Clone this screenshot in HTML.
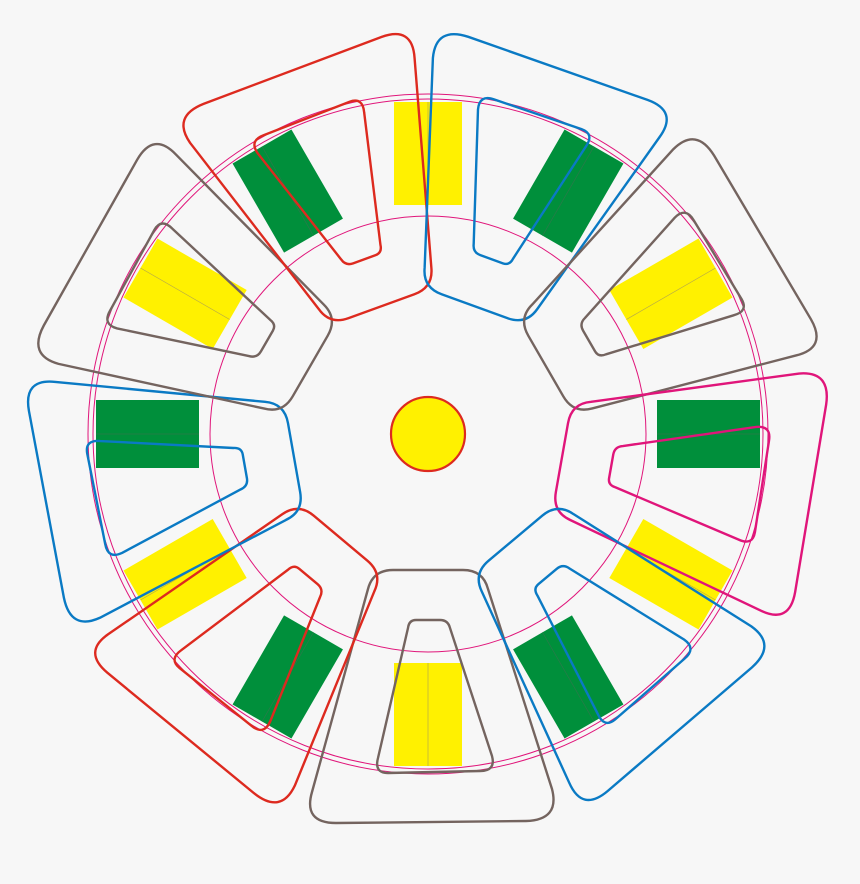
<!DOCTYPE html>
<html><head><meta charset="utf-8"><style>
html,body{margin:0;padding:0;background:#f7f7f7;}
svg{display:block;}
</style></head><body>
<svg width="860" height="884" viewBox="0 0 860 884" xmlns="http://www.w3.org/2000/svg">
<defs>
<g id="ry"><rect x="-34" y="229" width="68" height="103" fill="#fff100"/><line x1="0" y1="229" x2="0" y2="332" stroke="#b5a84a" stroke-width="0.7"/></g>
<g id="rg"><rect x="-34" y="229" width="68" height="103" fill="#008f3b"/><line x1="0" y1="229" x2="0" y2="332" stroke="#2a7a4a" stroke-width="0.7"/></g>
<g id="coil" fill="none" stroke-width="2.4" stroke-linejoin="round">
<path d="M -35,136 L 35,136 Q 55,136 60,155 L 124,355 Q 132,386 98,387 L -92,389 Q -125,389 -116,358 L -60,155 Q -55,136 -35,136 Z"/>
<path d="M -12,186 L 12,186 Q 20,186 22,194 L 64,322 Q 68,337 52,337 L -40,339 Q -54,339 -50,324 L -20,194 Q -19,186 -12,186 Z"/>
</g>
</defs>
<g transform="translate(428,434)">
<circle r="340" fill="none" stroke="#e0157a" stroke-width="1"/>
<circle r="335" fill="none" stroke="#e0157a" stroke-width="1"/>
<circle r="218" fill="none" stroke="#e0157a" stroke-width="1"/>
<use href="#ry" transform="rotate(0)"/>
<use href="#rg" transform="rotate(30)"/>
<use href="#ry" transform="rotate(60)"/>
<use href="#rg" transform="rotate(90)"/>
<use href="#ry" transform="rotate(120)"/>
<use href="#rg" transform="rotate(150)"/>
<use href="#ry" transform="rotate(180)"/>
<use href="#rg" transform="rotate(210)"/>
<use href="#ry" transform="rotate(240)"/>
<use href="#rg" transform="rotate(270)"/>
<use href="#ry" transform="rotate(300)"/>
<use href="#rg" transform="rotate(330)"/>
<use href="#coil" stroke="#74645f" transform="rotate(0)"/>
<use href="#coil" stroke="#dd2a1f" transform="rotate(40)"/>
<use href="#coil" stroke="#0a7ac4" transform="rotate(80)"/>
<use href="#coil" stroke="#74645f" transform="rotate(120)"/>
<use href="#coil" stroke="#dd2a1f" transform="rotate(160)"/>
<use href="#coil" stroke="#0a7ac4" transform="rotate(200)"/>
<use href="#coil" stroke="#74645f" transform="rotate(240)"/>
<use href="#coil" stroke="#e0157a" transform="rotate(280)"/>
<use href="#coil" stroke="#0a7ac4" transform="rotate(320)"/>
<circle r="37" fill="#fff100" stroke="#dd2a1f" stroke-width="2.2"/>
</g>
</svg>
</body></html>
